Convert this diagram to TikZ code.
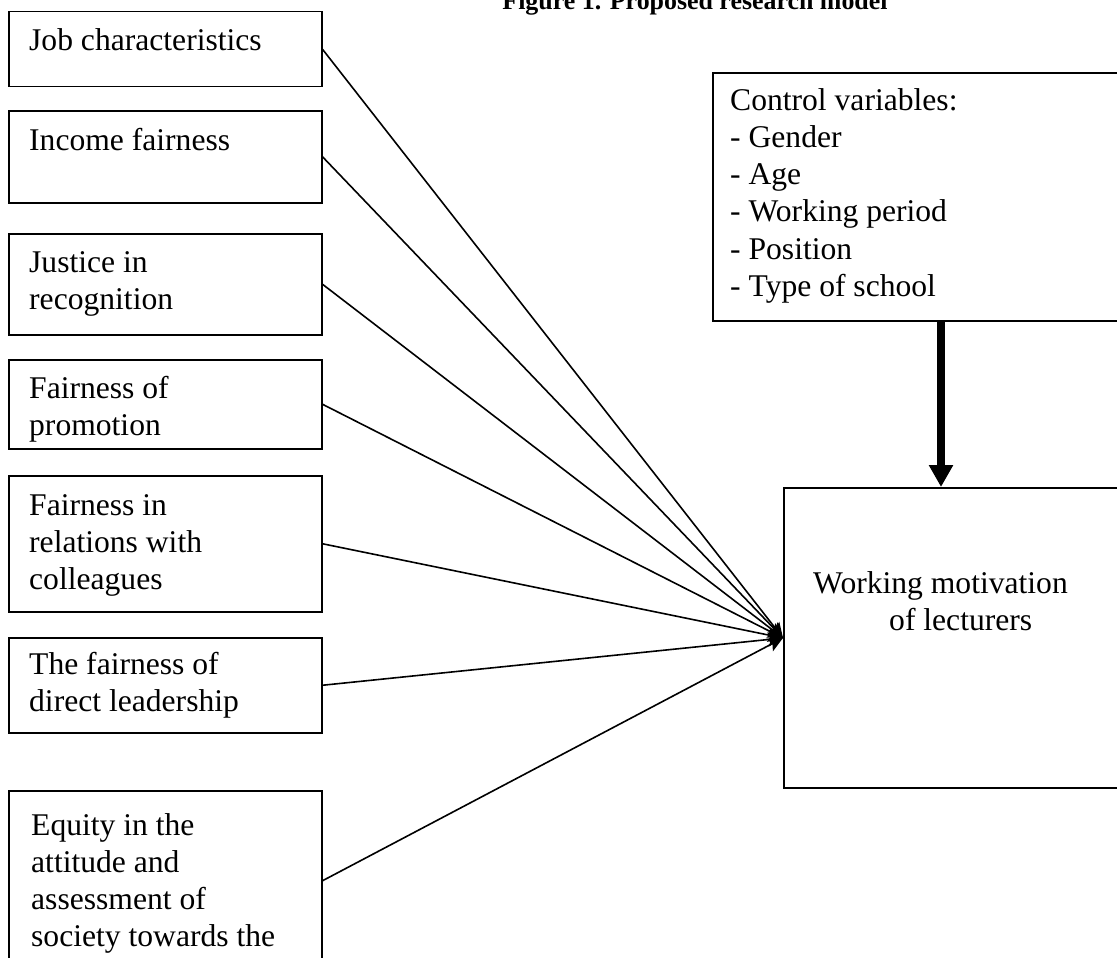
\documentclass[tikz,border=0pt]{standalone}
\usepackage{fontspec}
\setmainfont{Liberation Serif}
\usetikzlibrary{arrows.meta}

\tikzset{
  factor/.style={draw, line width=1.5pt, anchor=north west, inner sep=0pt, minimum width=313pt},
  bigbox/.style={draw, line width=2pt, anchor=north west, inner sep=0pt},
  boxtext/.style={anchor=north west, inner sep=0pt, align=left, font=\fontsize{31.6}{37.2}\selectfont},
  link/.style={line width=1.6pt, -{Stealth[length=15pt,width=14pt,inset=3pt]}},
  ctrlarrow/.style={line width=7.5pt, -{Triangle[length=22pt,width=23pt]}},
}

\begin{document}
\begin{tikzpicture}[x=1pt, y=-1pt]
    \clip (0,0) rectangle (1117,958);

    % title, cut off at the top
    \node[anchor=base, inner sep=0pt, font=\fontsize{25.9}{30}\selectfont\bfseries] (title) at (695,10) {Figure 1. Proposed research model};

    % factors on the left
    \node[factor, minimum height=75pt]  (job)  at (8,11)  {};
    \node[factor, minimum height=92pt]  (inc)  at (8,110) {};
    \node[factor, minimum height=101pt] (rec)  at (8,233) {};
    \node[factor, minimum height=89pt]  (pro)  at (8,359) {};
    \node[factor, minimum height=136pt] (col)  at (8,475) {};
    \node[factor, minimum height=95pt]  (lead) at (8,637) {};
    \node[factor, minimum height=180pt] (soc)  at (8,790) {};

    \node[boxtext] (jobtxt)  at ([shift={(21,13)}]job.north west)  {\strut Job characteristics};
    \node[boxtext] (inctxt)  at ([shift={(21,14)}]inc.north west)  {\strut Income fairness};
    \node[boxtext] (rectxt)  at ([shift={(21,13)}]rec.north west)  {\strut Justice in\\recognition};
    \node[boxtext] (protxt)  at ([shift={(21,13)}]pro.north west)  {\strut Fairness of\\promotion};
    \node[boxtext] (coltxt)  at ([shift={(21,14)}]col.north west)  {\strut Fairness in\\relations with\\colleagues};
    \node[boxtext] (leadtxt) at ([shift={(21,11)}]lead.north west) {\strut The fairness of\\direct leadership};
    \node[boxtext] (soctxt)  at ([shift={(23,19)}]soc.north west)  {\strut Equity in the\\attitude and\\assessment of\\society towards the};

    % control variables and outcome
    \node[bigbox, minimum width=456pt, minimum height=248pt] (ctrl) at (712,72) {};
    \node[boxtext] (ctrltxt) at ([shift={(18,12)}]ctrl.north west)
        {\strut Control variables:\\- Gender\\- Age\\- Working period\\- Position\\- Type of school};

    \node[bigbox, minimum width=400pt, minimum height=300pt] (wm) at (783,487) {};
    \node[boxtext] (wmtxt) at ([shift={(30,80)}]wm.north west)
        {\strut Working motivation\\\hspace*{76pt}of lecturers};

    % connectors
    \foreach \f in {job,inc,rec,pro,col,lead,soc}
        \draw[link] (\f.east) -- (wm.west);
    \draw[ctrlarrow] (ctrl.south) -- (ctrl.south |- wm.north);
\end{tikzpicture}
\end{document}
